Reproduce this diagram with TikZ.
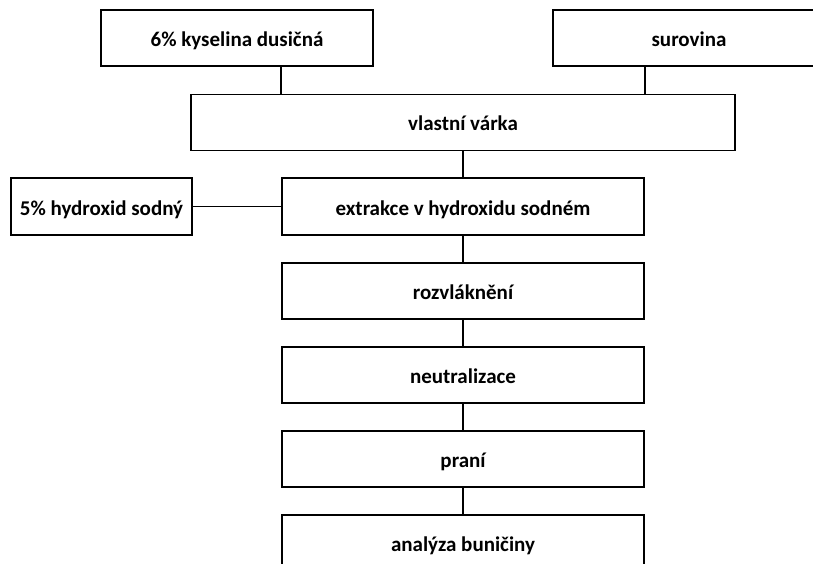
\documentclass[tikz,border=0pt]{standalone}
\usepackage{fontspec}
\setmainfont{Carlito}
\begin{document}
\begin{tikzpicture}[x=1pt,y=-1pt,
  box/.style={draw=black,line width=1.8pt,fill=white,inner sep=0pt,minimum height=56pt,
    text height=17pt,text depth=0pt,
    font=\fontsize{21}{24}\selectfont\bfseries,text=black},
  conn/.style={draw=black,line width=1.8pt}]
\useasboundingbox (0,0) rectangle (813,564);
\clip (0,0) rectangle (813,564);
\node[box,minimum width=272pt] (kys) at (237,38) {6\% kyselina dusičná};
\node[box,minimum width=272pt] (sur) at (689,38) {surovina};
\node[box,minimum width=544pt] (vl) at (463,122.5) {vlastní várka};
\node[box,minimum width=181pt,minimum height=57pt] (naoh) at (101.5,206.5) {5\% hydroxid sodný};
\node[box,minimum width=362pt,minimum height=57pt] (ext) at (463,206.5) {extrakce v hydroxidu sodném};
\node[box,minimum width=362pt] (roz) at (463,291) {rozvláknění};
\node[box,minimum width=362pt] (neu) at (463,375) {neutralizace};
\node[box,minimum width=362pt] (pra) at (463,459) {praní};
\node[box,minimum width=362pt] (ana) at (463,543) {analýza buničiny};
\draw[conn] (kys.south -| ext.west) -- (vl.north -| ext.west);
\draw[conn] (sur.south -| ext.east) -- (vl.north -| ext.east);
\draw[conn] (vl.south) -- (ext.north);
\draw[conn] (naoh.east) -- (ext.west);
\draw[conn] (ext.south) -- (roz.north);
\draw[conn] (roz.south) -- (neu.north);
\draw[conn] (neu.south) -- (pra.north);
\draw[conn] (pra.south) -- (ana.north);
\end{tikzpicture}
\end{document}
